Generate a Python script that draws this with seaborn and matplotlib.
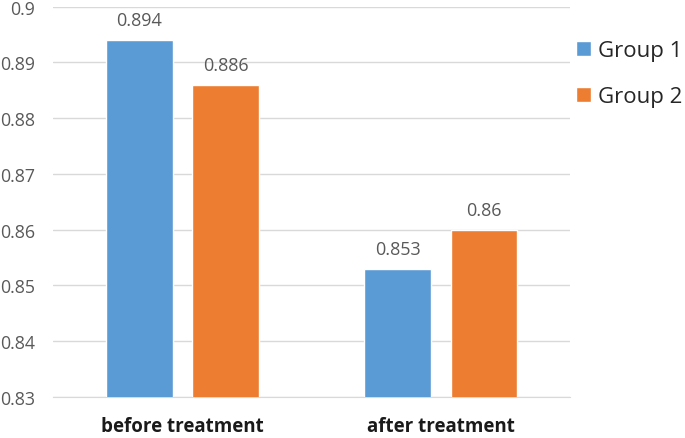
import matplotlib

matplotlib.use("Agg")
import matplotlib.pyplot as plt  # noqa: E402
import pandas as pd
import seaborn as sns

categories = ["before treatment", "after treatment"]
groups = ["Group 1", "Group 2"]
group1_values = [0.894, 0.853]
group2_values = [0.886, 0.860]
value_labels = [["0.894", "0.853"], ["0.886", "0.86"]]
colors = ["#5B9BD5", "#ED7D31"]

rows = []
for cat, v1, v2 in zip(categories, group1_values, group2_values):
    rows.append({"phase": cat, "group": groups[0], "value": v1})
    rows.append({"phase": cat, "group": groups[1], "value": v2})
df = pd.DataFrame(rows)

sns.set_style("white")
plt.rcParams["font.family"] = ["Open Sans", "DejaVu Sans"]

fig = plt.figure(figsize=(6.85, 4.39), dpi=100)
ax = fig.add_axes([0.078, 0.0934, 0.754, 0.889])

sns.barplot(
    data=df, x="phase", y="value", hue="group",
    order=categories, hue_order=groups, palette=colors,
    width=0.668, gap=0.23, saturation=1, ax=ax, zorder=3,
)

ax.set_ylim(0.83, 0.9)
ax.set_yticks([0.83 + 0.01 * i for i in range(8)])
ax.set_yticklabels(["0.83", "0.84", "0.85", "0.86", "0.87", "0.88", "0.89", "0.9"])
ax.grid(axis="y", color="#D9D9D9", linewidth=1, zorder=0)
ax.set_axisbelow(True)
for side in ["left", "right", "top"]:
    ax.spines[side].set_visible(False)
ax.spines["bottom"].set_color("#D9D9D9")
ax.tick_params(axis="y", length=0, labelsize=12.8, labelcolor="#595959", pad=13)
ax.tick_params(axis="x", length=0, labelsize=13.5, labelcolor="#1a1a1a", pad=14)
for lbl in ax.get_xticklabels():
    lbl.set_fontweight("bold")
ax.set_xlabel("")
ax.set_ylabel("")

for container, labels in zip(ax.containers, value_labels):
    ax.bar_label(container, labels=labels, padding=8, fontsize=13, color="#595959")

handles, _ = ax.get_legend_handles_labels()
ax.legend(
    handles, groups, loc="upper left", bbox_to_anchor=(0.841, 0.906),
    bbox_transform=fig.transFigure, frameon=False,
    fontsize=16, handlelength=0.65, handleheight=0.65, labelspacing=1.13,
    handletextpad=0.35, borderpad=0, borderaxespad=0,
)

fig.savefig("out.png", dpi=100)
plt.close(fig)
